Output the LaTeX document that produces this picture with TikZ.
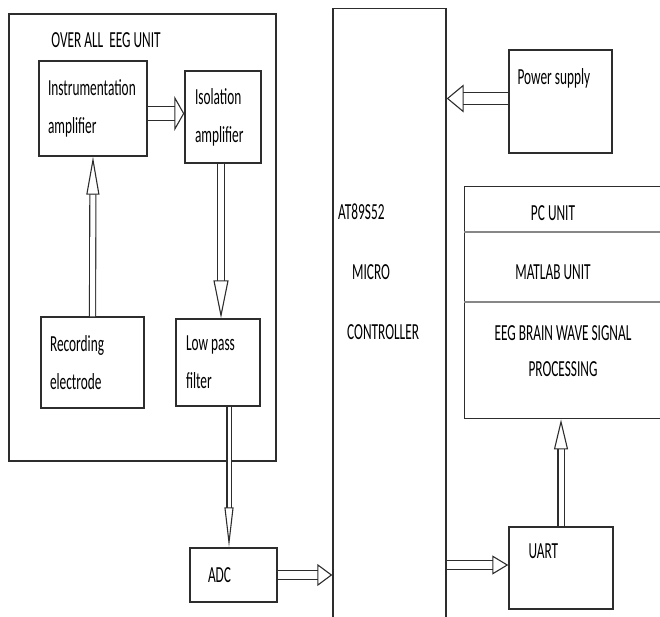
\documentclass[tikz,border=0pt]{standalone}
\usepackage{fontspec}
\setmainfont{Carlito}[FakeStretch=0.58]
\usetikzlibrary{positioning,arrows.meta}
\definecolor{lineDark}{RGB}{45,45,45}
\definecolor{lineGrey}{RGB}{135,135,135}

\begin{document}
\begin{tikzpicture}[x=1pt, y=-1pt,
      box/.style={draw=lineDark, line width=1.4pt, align=flush left, inner xsep=9pt, inner ysep=0pt, font=\fontsize{23}{38}\selectfont},
      lbl/.style={inner sep=0pt, font=\fontsize{23}{36}\selectfont},
      harrow/.style={draw=lineDark, line width=1.1pt, double=white, double distance=9pt, -{Triangle[open, length=15pt, width=24pt]}},
      varrow/.style={draw=lineDark, line width=1.1pt, double=white, double distance=5pt, -{Triangle[open, length=38pt, width=13pt]}},
      divider/.style={draw=lineGrey, line width=2.5pt}
    ]
      \useasboundingbox (0,0) rectangle (660,617);
      % EEG side
      \node[box, minimum width=267pt, minimum height=447pt] (eeg) at (142.5,237.5) {};
      \node[lbl] (eegtitle) at (106,40) {OVER ALL\ \ EEG UNIT};
      \node[box, text width=90pt, minimum height=95pt] (instr) at (93,108.5) {Instrumentation\\amplifier};
      \node[box, inner xsep=10pt, text width=56pt, minimum height=92pt] (iso) at (223,117) {Isolation\\amplifier};
      \node[box, text width=85pt, minimum height=91pt] (rec) at (92.5,362.5) {Recording\\electrode};
      \node[box, inner xsep=10pt, text width=64pt, minimum height=87pt] (lpf) at (218,362.5) {Low pass\\filter};
      \node[box, inner xsep=18pt, text width=51pt, minimum height=54pt] (adc) at (233.5,575) {ADC};
      % controller
      \node[box, minimum width=113pt, minimum height=700pt, anchor=north] (mcu) at (389.5,8) {};
      \node[lbl, anchor=west] (chip) at (338,212) {AT89S52};
      \node[lbl, anchor=west] (micro) at (352,272) {MICRO};
      \node[lbl, anchor=west] (ctrl) at (347,332) {CONTROLLER};
      % right side
      \node[box, minimum width=103pt, minimum height=103pt] (power) at (560.5,101.5) {};
      \node[lbl, anchor=west] (powerlbl) at ([xshift=9pt, yshift=-29pt]power.north west) {Power supply};
      \node[box, minimum width=240pt, minimum height=232pt, anchor=north west] (pc) at (464,186) {};
      \draw[divider] ([yshift=-46pt]pc.north west) -- ([yshift=-46pt]pc.north east);
      \draw[divider] ([yshift=-116pt]pc.north west) -- ([yshift=-116pt]pc.north east);
      \node[lbl] (pctitle) at (553,213) {PC UNIT};
      \node[lbl] (matlab) at (553,272) {MATLAB UNIT};
      \node[lbl, align=center] (eegproc) at (563,351) {EEG BRAIN WAVE SIGNAL\\PROCESSING};
      \node[box, minimum width=104pt, minimum height=82pt] (uart) at (561,568) {};
      \node[lbl, anchor=west] (uartlbl) at ([xshift=20pt, yshift=-25pt]uart.north west) {UART};
      % connectors
      \draw[harrow, double distance=13pt, -{Triangle[open, length=10pt, width=35pt]}] ([yshift=-5pt]instr.east) -- ([yshift=-5pt]instr.east -| iso.west);
      \draw[varrow] (rec.north) -- (instr.south);
      \draw[varrow, double distance=5.5pt, -{Triangle[open, length=38pt, width=15pt]}] ([xshift=-2pt]iso.south) -- ([xshift=-2pt]iso.south |- lpf.north);
      \draw[varrow, double distance=3pt, -{Triangle[open, length=40pt, width=9pt]}] ([xshift=11pt]lpf.south) -- ([xshift=11pt]lpf.south |- adc.north);
      \draw[harrow, double distance=8.5pt, -{Triangle[open, length=15pt, width=22pt]}] (adc.east) -- (adc.east -| mcu.west);
      \draw[harrow, double distance=10.5pt, -{Triangle[open, length=17pt, width=28pt]}] ([yshift=3pt]power.west) -- ([yshift=3pt]power.west -| mcu.east);
      \draw[harrow, double distance=7.5pt, -{Triangle[open, length=16pt, width=19pt]}] ([yshift=3pt]uart.west -| mcu.east) -- ([yshift=3pt]uart.west);
      \draw[varrow, double distance=5pt, -{Triangle[open, length=30pt, width=14pt]}] (uart.north) -- (uart.north |- pc.south);
    \end{tikzpicture}
\end{document}
